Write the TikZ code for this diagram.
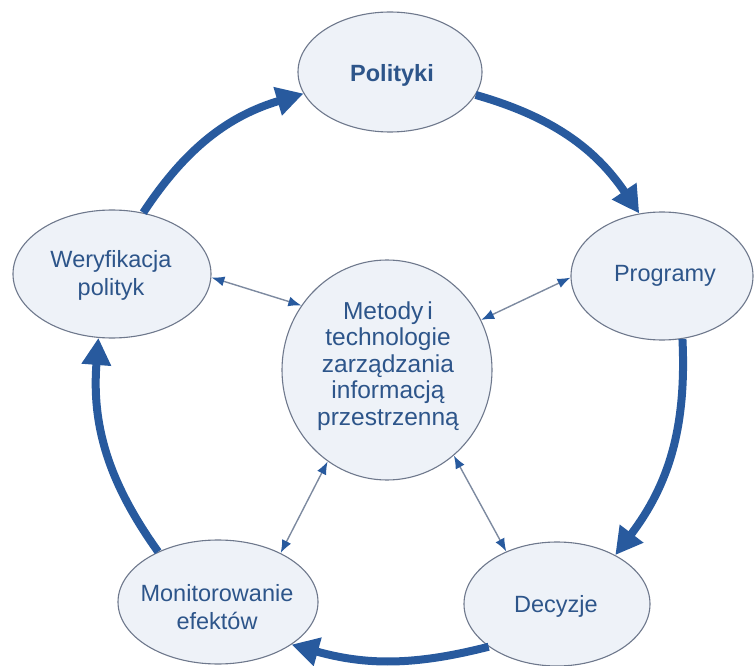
\documentclass[tikz,border=0pt]{standalone}
\usepackage{fontspec}
\setmainfont{Liberation Sans}
\usetikzlibrary{shapes.geometric,arrows.meta}
\definecolor{flowblue}{RGB}{40,90,158}
\definecolor{labelblue}{RGB}{45,85,138}
\definecolor{bubblefill}{RGB}{238,242,248}
\definecolor{bubbleline}{RGB}{110,120,140}
\definecolor{spokeline}{RGB}{125,138,160}
\begin{document}
\begin{tikzpicture}[x=1pt,y=-1pt,
  bubble/.style={ellipse, draw=bubbleline, line width=1.1pt, fill=bubblefill, inner sep=0pt},
  caption/.style={text=labelblue, align=center, inner sep=0pt,
                  font=\fontsize{23.5}{28}\selectfont},
  loopflow/.style={draw=flowblue, line width=8pt,
                   -{Triangle[length=27pt,width=28pt]}, bend left=20},
  spoke/.style={draw=spokeline, line width=1.4pt,
                {Latex[length=13pt,width=10pt,color=flowblue]}-{Latex[length=13pt,width=10pt,color=flowblue]}},
]
\useasboundingbox (0,0) rectangle (756,666);

% outer cycle stages and the hub
\node[bubble, minimum width=184pt, minimum height=120pt] (pol)  at (390,72)  {};
\node[bubble, minimum width=182pt, minimum height=128pt] (prog) at (662,276) {};
\node[bubble, minimum width=186pt, minimum height=124pt] (dec)  at (557,604) {};
\node[bubble, minimum width=200pt, minimum height=124pt] (mon)  at (218,602) {};
\node[bubble, minimum width=198pt, minimum height=128pt] (wer)  at (112,274) {};
\node[bubble, minimum width=210pt, minimum height=220pt] (core) at (387,370) {};

% the cycle
\draw[loopflow] (wer.63)   to (pol.194);
\draw[loopflow] (pol.-15)  to (prog.110);
\draw[loopflow] (prog.-72) to (dec.40);
\draw[loopflow, bend left=15] (dec.212)  to (mon.-30);
\draw[loopflow] (mon.140)  to (wer.258);

% links between the hub and the stages
\draw[spoke] (wer.-2)   -- (core.143);
\draw[spoke] (prog.181) -- (core.28);
\draw[spoke] (mon.38)   -- (core.237);
\draw[spoke] (dec.134)  -- (core.-52);

% texts
\node[caption, font=\fontsize{23.5}{28}\selectfont\bfseries] (pol-text) at (392,75) {Polityki};
\node[caption] (prog-text) at (665,276) {Programy};
\node[caption] (dec-text)  at (556,606) {Decyzje};
\node[caption] (mon-text)  at (217,607) {Monitorowanie\\efektów};
\node[caption] (wer-text)  at (111,275) {Weryfikacja\\polityk};
\node[caption, font=\fontsize{24.5}{26.5}\selectfont] (core-text) at (388,366)
  {Metody\,i\\technologie\\zarządzania\\informacją\\przestrzenną};
\end{tikzpicture}
\end{document}
